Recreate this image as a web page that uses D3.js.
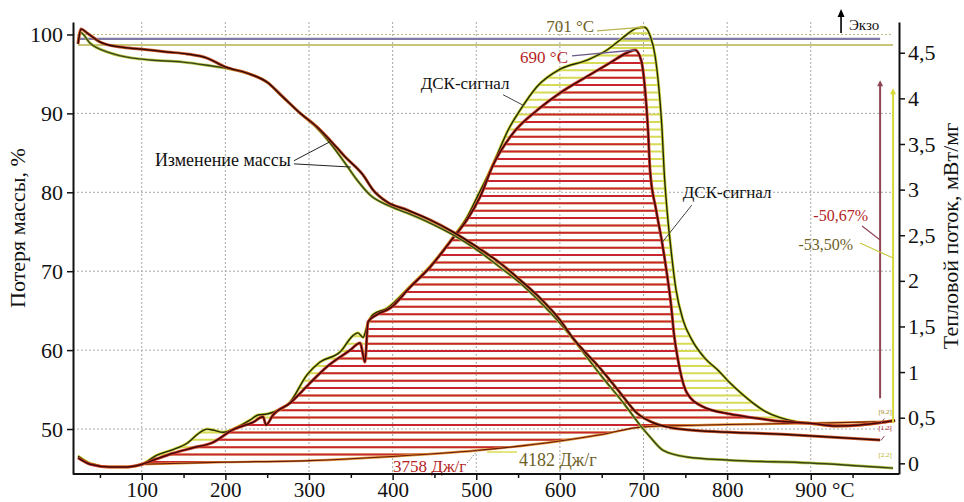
<!DOCTYPE html>
<html>
<head>
<meta charset="utf-8">
<script src="https://cdn.jsdelivr.net/npm/d3@7"></script>
<style>
  body { margin: 0; background: #fff; }
  svg { display: block; }
</style>
</head>
<body>
<div id="chart"></div>
<script>
// [temperature °C, heat flow mW/mg]
var dscRed = [[23.8,0.06],[38.2,-0.01],[62.1,-0.04],[82.5,-0.04],[100.4,-0.01],[118.3,0.05],[137.4,0.11],[161.4,0.17],[185.3,0.23],[209.2,0.37],[233.1,0.45],[245.1,0.51],[248.6,0.42],[257,0.53],[277.3,0.66],[301.2,0.88],[321.6,1.06],[349.1,1.24],[361,1.32],[367,1.11],[370.6,1.55],[381.4,1.63],[397,1.70],[420.9,1.93],[444.8,2.15],[472.3,2.47],[489.1,2.67],[504.6,2.92],[520.2,3.27],[544.1,3.62],[572.8,3.87],[600.3,4.06],[632.5,4.24],[660,4.39],[680.4,4.50],[690,4.53],[697.1,4.42],[701.9,4.09],[705.4,3.65],[707.8,3.21],[715,2.78],[722.2,2.42],[728.1,2.07],[732.9,1.74],[736.5,1.41],[741.3,1.13],[752,0.77],[771.2,0.62],[803.5,0.54],[831,0.50],[863.3,0.46],[899.1,0.44],[931.4,0.41],[959,0.42],[986.5,0.45],[1000.8,0.47]];
var dscOlive = [[23.8,0.08],[38.2,0.0],[62.1,-0.04],[82.5,-0.04],[100.4,-0.01],[118.3,0.09],[137.4,0.15],[154.2,0.22],[169.8,0.34],[178.1,0.375],[185.3,0.365],[197.3,0.34],[209.2,0.375],[229.6,0.475],[239.1,0.53],[249.9,0.54],[257.1,0.56],[277.3,0.67],[297.6,0.97],[313.2,1.11],[337.1,1.22],[352.6,1.40],[358.6,1.43],[364.6,1.38],[370.6,1.54],[376.6,1.63],[393.3,1.70],[420.9,1.94],[444.8,2.16],[472.3,2.48],[489.1,2.70],[502.2,2.94],[514.1,3.16],[524.9,3.38],[538,3.65],[552.4,3.87],[572.8,4.13],[600.3,4.32],[632.5,4.42],[656.4,4.53],[671.9,4.64],[692.3,4.77],[701,4.78],[707.8,4.69],[713.8,4.47],[718.6,4.09],[722.2,3.65],[724.6,3.21],[728.1,2.78],[732.9,2.34],[738.9,1.90],[747.3,1.57],[758,1.35],[773.6,1.15],[789.1,1.02],[803.5,0.88],[817.8,0.76],[831,0.66],[845.3,0.57],[863.3,0.50],[881.3,0.46],[899.1,0.44],[931.4,0.41],[959,0.42],[986.5,0.45],[1000.8,0.47]];
// integration baseline [°C, mW/mg]
var baseline = [[100,-0.01],[200,0.013],[300,0.03],[400,0.075],[500,0.14],[600,0.245],[650,0.316],[700,0.40],[800,0.425],[900,0.44],[1000,0.46]];
// [temperature °C, mass %]
var massRed = [[23.8,98.8],[27.4,100.7],[34.6,100.2],[50.1,99.05],[74.1,98.4],[98,98.16],[130.2,97.78],[154.2,97.53],[178.1,97.0],[199.6,95.9],[225.9,95.1],[249.8,93.96],[269,92.06],[289.3,90.04],[309.6,88.28],[325.2,86.6],[343.1,84.5],[364.6,82.2],[376.6,80.29],[393.3,78.77],[417.2,77.76],[444.8,76.5],[472.3,74.97],[500.9,73.07],[528.4,71.04],[552.4,68.9],[576.3,66.6],[600.3,63.8],[615.8,61.5],[648.1,57.7],[672,54.6],[692.3,52.0],[711.4,50.8],[731.8,50.2],[752.1,49.9],[871.7,49.3],[982.9,48.6]];
var massOlive = [[23.8,99.05],[26.2,100.3],[38.2,98.9],[62.1,97.66],[89.6,97.0],[110,96.77],[149.4,96.5],[178.1,96.1],[199.6,95.75],[225.9,95.1],[249.8,93.96],[269,92.06],[289.3,90.04],[309.6,88.15],[325.2,86.25],[343.1,83.7],[357.4,81.56],[373,79.66],[393.3,78.39],[417.2,77.38],[444.8,76.1],[472.3,74.6],[500.9,72.7],[528.4,70.5],[552.4,68.5],[576.3,66.1],[600.3,63.4],[609.8,62.2],[651.6,56.46],[677.9,53.04],[695.9,50.5],[707.8,49.0],[723.4,47.3],[752.1,46.45],[799.9,46.07],[899.1,45.7],[998.4,45.04]];
// initial mass reference lines: [from °C, to °C, mass %]
var refRed = [23.8, 982.9, 99.43];
var refOlive = [23.8, 998.4, 98.67];

var xTicks = [100, 200, 300, 400, 500, 600, 700, 800, 900];
var xMinor = [50, 150, 250, 350, 450, 550, 650, 750, 850, 950];
var massTicks = [50, 60, 70, 80, 90, 100];
var flowTicks = [0, 0.5, 1, 1.5, 2, 2.5, 3, 3.5, 4, 4.5];

var RED = "#b41e24", OLIVE = "#6e6126";
var FONT = "'Liberation Serif', 'DejaVu Serif', serif";

var W = 964, H = 502;
var svg = d3.select("#chart").append("svg").attr("width", W).attr("height", H)
	.style("font-family", FONT);

var x = d3.scaleLinear().domain([17.8, 1005.5]).range([73, 899]);
var yL = d3.scaleLinear().domain([44.3, 101.58]).range([474, 22]);
var yR = d3.scaleLinear().domain([-0.117, 4.837]).range([474, 22]);

// grid
var grid = svg.append("g").attr("stroke", "#a8a8a8").attr("stroke-width", 1).attr("stroke-dasharray", "2,2");
xTicks.forEach(function(t) {
	grid.append("line").attr("x1", x(t)).attr("x2", x(t)).attr("y1", 22).attr("y2", 474);
});
massTicks.forEach(function(m) {
	grid.append("line").attr("x1", 73).attr("x2", 893).attr("y1", yL(m)).attr("y2", yL(m))
		.attr("stroke", m == 100 ? "#b6ba7a" : "#a8a8a8");
});

// reference lines at the top
svg.append("line").attr("x1", x(refRed[0])).attr("x2", x(refRed[1])).attr("y1", yL(refRed[2])).attr("y2", yL(refRed[2]))
	.attr("stroke", "#7d7aa3").attr("stroke-width", 2.2);
svg.append("line").attr("x1", x(refOlive[0])).attr("x2", x(refOlive[1])).attr("y1", yL(refOlive[2])).attr("y2", yL(refOlive[2]))
	.attr("stroke", "#b7b24c").attr("stroke-width", 1.5);

// hatched areas between dsc signal and baseline
function areaPath(curve) {
	var top = curve.filter(function(d) { return d[0] >= 100; });
	var pts = [[100, baseline[0][1]]].concat(top).concat(baseline.slice().reverse());
	return "M" + pts.map(function(d) { return x(d[0]) + "," + yR(d[1]); }).join("L") + "Z";
}
var defs = svg.append("defs");
defs.append("clipPath").attr("id", "clipOlive").append("path").attr("d", areaPath(dscOlive));
defs.append("clipPath").attr("id", "clipRed").append("path").attr("d", areaPath(dscRed));

var hatchLevels = d3.range(0.015, 4.85, 0.081);
svg.append("g").attr("clip-path", "url(#clipOlive)").selectAll("line").data(hatchLevels).join("line")
	.attr("x1", 73).attr("x2", 899).attr("y1", function(d) { return yR(d); }).attr("y2", function(d) { return yR(d); })
	.attr("stroke", "#d6da55").attr("stroke-width", 2);
svg.append("g").attr("clip-path", "url(#clipRed)").selectAll("line").data(hatchLevels).join("line")
	.attr("x1", 73).attr("x2", 899).attr("y1", function(d) { return yR(d); }).attr("y2", function(d) { return yR(d); })
	.attr("stroke", "#c9252f").attr("stroke-width", 2);

function drawCurve(data, y, outer, inner, wOut, wIn) {
	var line = d3.line().x(function(d) { return x(d[0]); }).y(function(d) { return y(d[1]); }).curve(d3.curveMonotoneX);
	svg.append("path").datum(data).attr("fill", "none").attr("stroke", outer).attr("stroke-width", wOut)
		.attr("stroke-linejoin", "round").attr("d", line);
	svg.append("path").datum(data).attr("fill", "none").attr("stroke", inner).attr("stroke-width", wIn)
		.attr("stroke-linejoin", "round").attr("d", line);
}

drawCurve(baseline, yR, "#e0902e", "#6a1a10", 2.4, 1.1);
drawCurve(dscOlive, yR, "#d4d63c", "#1f2a0c", 3, 1.4);
drawCurve(dscRed, yR, "#d6402c", "#3e0a0a", 3, 1.5);
drawCurve(massOlive, yL, "#bcc443", "#34461a", 2.8, 1.4);
drawCurve(massRed, yL, "#cc5a2a", "#360808", 3, 1.5);

// mass change bars
function vbar(t, m0, m1, color) {
	svg.append("line").attr("x1", x(t)).attr("x2", x(t)).attr("y1", yL(m0)).attr("y2", yL(m1) + 4)
		.attr("stroke", color).attr("stroke-width", 2);
	svg.append("path").attr("d", "M" + (x(t) - 3) + "," + (yL(m1) + 6) + "L" + x(t) + "," + yL(m1) + "L" + (x(t) + 3) + "," + (yL(m1) + 6) + "Z")
		.attr("fill", color);
}
vbar(982.9, 53.9, 94.2, "#8e4655");
vbar(998.4, 50.8, 93.2, "#d8d83a");

// annotations
function label(txt, t, v, y, color, size, anchor) {
	return svg.append("text").attr("x", x(t)).attr("y", y(v)).attr("fill", color)
		.attr("font-size", size).attr("text-anchor", anchor || "start").text(txt);
}
function pointer(t0, v0, t1, v1, y0, y1, color, w, dash) {
	svg.append("line").attr("x1", x(t0)).attr("y1", y0(v0)).attr("x2", x(t1)).attr("y2", y1(v1))
		.attr("stroke", color).attr("stroke-width", w || 1).attr("stroke-dasharray", dash || null);
}

label("701 °C", 640.9, 4.727, yR, OLIVE, 17, "end");
pointer(644.4, 4.74, 701, 4.78, yR, yR, "#b9b44e", 1.3);
label("690 °C", 609.7, 4.39, yR, RED, 17, "end");
pointer(614.5, 4.465, 690, 4.53, yR, yR, "#6d5a8a", 1.3);

label("ДСК-сигнал", 486.6, 4.10, yR, "#111", 17, "middle");
pointer(532, 4.04, 557, 3.92, yR, yR, "#444", 1);
label("ДСК-сигнал", 800, 2.91, yR, "#111", 17, "middle");
pointer(757.7, 2.83, 722.2, 2.42, yR, yR, "#444", 1);

label("Изменение массы", 197, 83.33, yL, "#111", 18, "middle");
pointer(282, 84.0, 325, 86.4, yL, yL, "#222", 1);
pointer(282, 83.6, 350, 83.2, yL, yL, "#222", 1);

label("-50,67%", 968.4, 76.36, yL, RED, 16, "end");
pointer(961.3, 75.73, 982.9, 73.96, yL, yL, "#8e4655", 1.2);
label("-53,50%", 950.6, 72.69, yL, OLIVE, 16, "end");
pointer(958.9, 73.57, 998.4, 71.67, yL, yL, "#c8c840", 1.2);

label("3758 Дж/г", 400.5, -0.095, yR, RED, 17);
pointer(489, 0.003, 502, 0.146, yR, yR, "#888", 1, "1.5,1.5");
label("4182 Дж/г", 551.2, -0.03, yR, OLIVE, 18);
pointer(512.9, 0.124, 548.8, 0.124, yR, yR, "#d8d83a", 1.3);

label("[9.2]", 988.9, 0.54, yR, "#a08a20", 7, "middle");
label("[1.2]", 988.9, 0.365, yR, RED, 7, "middle");
label("[2.2]", 988.9, 0.07, yR, "#b8b020", 7, "middle");
pointer(984, 0.44, 988, 0.49, yR, yR, "#8e4655", 1);
pointer(984, 0.25, 988, 0.3, yR, yR, "#8e4655", 1);

// exo arrow
svg.append("line").attr("x1", x(936.2)).attr("x2", x(936.2)).attr("y1", 33).attr("y2", 14)
	.attr("stroke", "#000").attr("stroke-width", 1.6);
svg.append("path").attr("d", "M" + (x(936.2) - 3.5) + ",17L" + x(936.2) + ",9L" + (x(936.2) + 3.5) + ",17Z").attr("fill", "#000");
svg.append("text").attr("x", x(945.6)).attr("y", 30).attr("font-size", 15).attr("fill", "#111").text("Экзо");

// axes
var axL = svg.append("g").attr("transform", "translate(73,0)")
	.call(d3.axisLeft(yL).tickValues(massTicks).tickSize(6).tickSizeOuter(0).tickPadding(4));
var axR = svg.append("g").attr("transform", "translate(899,0)")
	.call(d3.axisRight(yR).tickValues(flowTicks).tickSize(6).tickSizeOuter(0).tickPadding(3)
		.tickFormat(function(d) { return String(d).replace(".", ","); }));
var axB = svg.append("g").attr("transform", "translate(0,474)")
	.call(d3.axisBottom(x).tickValues(xTicks.concat(xMinor)).tickSize(6).tickSizeOuter(0).tickPadding(2)
		.tickFormat(function(d) { return d % 100 == 0 ? String(d) : ""; }));
axB.selectAll(".tick").filter(function(d) { return d % 100 != 0; }).select("line").attr("y2", 4);
axB.selectAll(".tick").filter(function(d) { return d == 900; }).select("text")
	.attr("text-anchor", "start").attr("x", -16).text("900 °C");

[axL, axR, axB].forEach(function(a) {
	a.attr("font-family", null);
	a.select(".domain").attr("stroke", "#111").attr("stroke-width", 2);
	a.selectAll(".tick line").attr("stroke", "#111").attr("stroke-width", 1.5);
	a.selectAll("text").style("font-family", FONT).attr("font-size", 22).attr("fill", "#111");
});
axB.selectAll("text").attr("font-size", 21);
axB.select(".domain").attr("d", "M73,0H899");

svg.append("text").attr("transform", "translate(25,228) rotate(-90)").attr("text-anchor", "middle")
	.attr("font-size", 22).attr("fill", "#111").text("Потеря массы, %");
svg.append("text").attr("transform", "translate(958,236) rotate(-90)").attr("text-anchor", "middle")
	.attr("font-size", 22).attr("fill", "#111").text("Тепловой поток, мВт/мг");
</script>
</body>
</html>
